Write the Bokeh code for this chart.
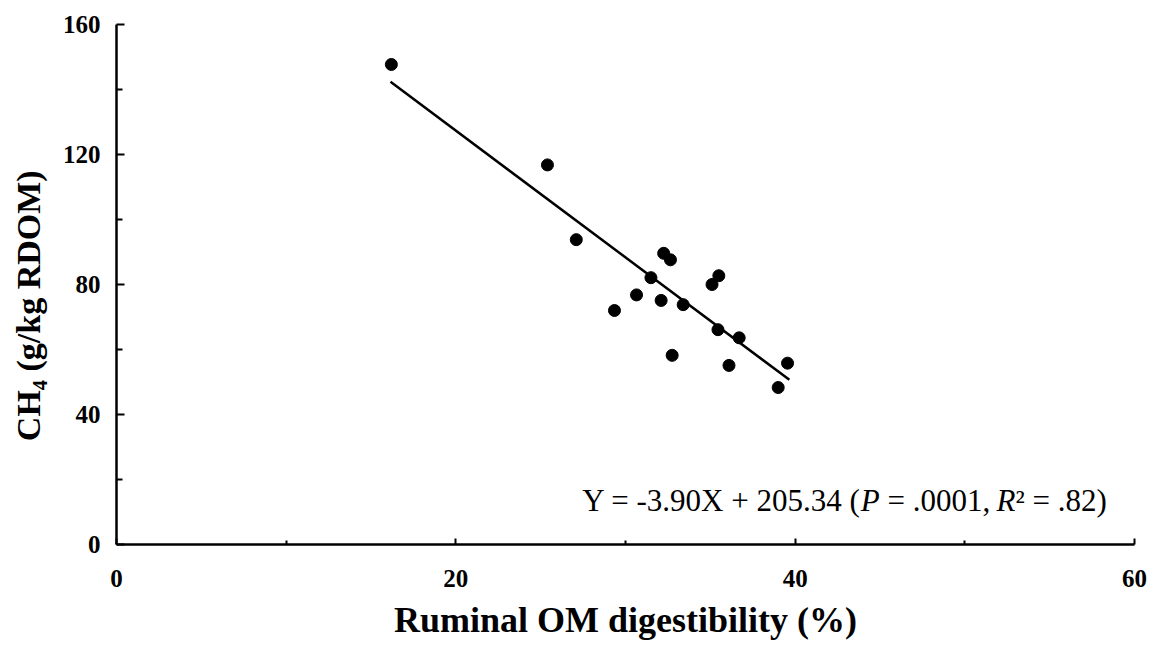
from bokeh.plotting import figure
from bokeh.models import Range1d, Label, FixedTicker
from bokeh.embed import file_html
from bokeh.resources import INLINE

# ---- data ----
digestibility = [16.2, 25.4, 27.1, 32.25, 32.65, 31.5, 35.5, 35.1, 30.65,
                 32.1, 29.35, 33.4, 35.45, 36.7, 32.75, 36.1, 39.55, 39.0]
ch4 = [147.7, 116.8, 93.8, 89.6, 87.6, 82.1, 82.7, 80.0, 76.8,
       75.1, 72.0, 73.8, 66.1, 63.6, 58.2, 55.1, 55.8, 48.3]
slope = -3.90
intercept = 205.34
fit_x = [16.15, 39.66]
fit_y = [slope * v + intercept for v in fit_x]

x_ticks = [0, 20, 40, 60]
x_minor = [10, 30, 50]
y_ticks = [0, 40, 80, 120, 160]
y_minor = [20, 60, 100, 140]

FONT = "Liberation Serif"
NB = "\u00a0"

p = figure(width=1158, height=648, output_backend="svg", toolbar_location=None,
           x_range=Range1d(0, 60), y_range=Range1d(0, 160),
           min_border_left=116, min_border_right=24,
           min_border_top=24, min_border_bottom=104)
p.outline_line_color = None
p.xgrid.grid_line_color = None
p.ygrid.grid_line_color = None
p.background_fill_color = "white"
p.border_fill_color = "white"

p.line(fit_x, fit_y, line_color="black", line_width=2.5)
p.scatter(digestibility, ch4, size=12, color="black")

for ax, ticks, minor in ((p.xaxis[0], x_ticks, x_minor), (p.yaxis[0], y_ticks, y_minor)):
    ax.ticker = FixedTicker(ticks=ticks, minor_ticks=minor)
    ax.axis_line_color = "black"
    ax.axis_line_width = 2.5
    ax.major_tick_line_color = "black"
    ax.major_tick_line_width = 2
    ax.minor_tick_line_color = "black"
    ax.minor_tick_line_width = 2
    ax.major_tick_out = 0
    ax.minor_tick_out = 0
    ax.major_label_text_font = FONT
    ax.major_label_text_font_style = "bold"
    ax.major_label_text_font_size = "25px"
    ax.major_label_text_color = "black"
    ax.axis_label_text_font = FONT
    ax.axis_label_text_font_style = "bold"
    ax.axis_label_text_color = "black"

p.xaxis[0].axis_label_text_font_size = "36px"
p.yaxis[0].axis_label_text_font_size = "34px"
p.xaxis[0].major_tick_in = 6
p.xaxis[0].minor_tick_in = 4
p.yaxis[0].major_tick_in = 8
p.yaxis[0].minor_tick_in = 6
p.xaxis[0].major_label_standoff = 25
p.yaxis[0].major_label_standoff = 16
p.xaxis[0].axis_label = "Ruminal OM digestibility (%)"
p.yaxis[0].axis_label = "CH\u2084 (g/kg RDOM)" + NB * 5
p.xaxis[0].axis_label_standoff = 10
p.yaxis[0].axis_label_standoff = 13

# ---- regression equation, assembled from pieces ----
eq_size = 31
pieces = [("Y = -3.90X + 205.34 (", "normal", 8.988),
          ("P", "italic", 0.611),
          (NB + "=" + NB + ".0001," + NB, "normal", 3.764),
          ("R", "italic", 0.611),
          ("\u00b2" + NB + "=" + NB + ".82)", "normal", 2.947)]
offset = 0.0
for txt, style, em in pieces:
    p.add_layout(Label(x=27.45, y=13.5, x_offset=offset, text=txt,
                       text_font=FONT, text_font_style=style,
                       text_font_size=f"{eq_size}px", text_color="black",
                       text_baseline="alphabetic", text_align="left"))
    offset += em * eq_size

open("out.html", "w").write(file_html(p, INLINE))
